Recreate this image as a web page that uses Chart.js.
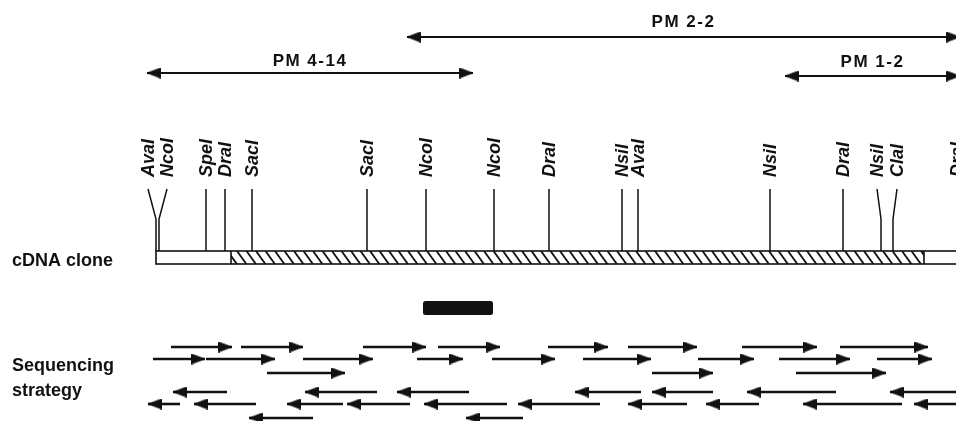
<!DOCTYPE html>
<html><head><meta charset="utf-8">
<script src="https://cdn.jsdelivr.net/npm/chart.js@4"></script>
<style>html,body{margin:0;padding:0;background:#fff;overflow:hidden}canvas{display:block}</style>
</head><body>
<canvas id="c" width="956" height="421"></canvas>
<script>
// ---------- DATA (map units, 0 = 5' end of the cDNA clone) ----------
const siteNames     = ['AvaI','NcoI','SpeI','DraI','SacI','SacI','NcoI','NcoI','DraI','NsiI','AvaI','NsiI','DraI','NsiI','ClaI','DraI'];
const sitePositions = [0, 3, 50, 69, 96, 211, 270, 338, 393, 466, 482, 614, 687, 725, 737, 801];

const cloneNames  = ['PM 4-14', 'PM 2-2', 'PM 1-2'];
const cloneStarts = [-9, 251, 629];
const cloneEnds   = [317, 804, 804];

// clone start, coding start, coding end, clone end
const cdnaBounds = [0, 75, 768, 840];
const probeRange = [267, 337];

// sequencing runs [from, to] in reading direction
const seqForwardA = [[15,76],[85,147],[207,270],[282,344],[392,452],[472,541],[586,661],[684,772]];
const seqForwardB = [[-3,49],[50,119],[147,217],[261,307],[336,399],[427,495],[542,598],[623,694],[721,776]];
const seqForwardC = [[111,189],[496,557],[640,730]];
const seqReverseD = [[71,17],[221,149],[313,241],[485,419],[557,496],[680,591],[820,734]];
const seqReverseE = [[24,-8],[100,38],[187,131],[254,191],[351,268],[444,362],[531,472],[603,550],[746,647],[830,758]];
const seqReverseF = [[157,93],[367,310]];

// ---------- LAYOUT / STYLE ----------
const INK = '#111';
const FONT = '"Liberation Sans", Arial, Helvetica, sans-serif';
const siteLabelShift = [-8, 8, 0, 0, 0, 0, 0, 0, 0, 0, 0, 0, 0, -4, 4, 0];
const cloneRowY   = [73, 37, 76];
const cloneLabelY = [66, 27, 67];
const siteLabelY = 177, siteTopY = 189, siteBendY = 219, barTopY = 251, barBotY = 264;
const probeTopY = 301, probeBotY = 315;
const seqRows = [
  {runs: seqForwardA, y: 347}, {runs: seqForwardB, y: 359}, {runs: seqForwardC, y: 373},
  {runs: seqReverseD, y: 392}, {runs: seqReverseE, y: 404}, {runs: seqReverseF, y: 418}
];

function makeHead(dir, len, h) {
  const c = document.createElement('canvas');
  c.width = len * 2; c.height = h;
  const g = c.getContext('2d');
  g.fillStyle = INK;
  g.strokeStyle = INK; g.lineWidth = 1; g.lineJoin = 'round';
  g.beginPath();
  if (dir > 0) { g.moveTo(0.5, 0.5); g.lineTo(len - 0.5, h / 2); g.lineTo(0.5, h - 0.5); }
  else { g.moveTo(2 * len - 0.5, 0.5); g.lineTo(len + 0.5, h / 2); g.lineTo(2 * len - 0.5, h - 0.5); }
  g.closePath(); g.fill(); g.stroke();
  return c;
}
const headR = makeHead(1, 14, 11), headL = makeHead(-1, 14, 11);
const cHeadR = makeHead(1, 14, 11), cHeadL = makeHead(-1, 14, 11);

const datasets = [];
function lineDS(points, width, styles, radii) {
  return {
    data: points, showLine: true, borderColor: INK, borderWidth: width,
    pointStyle: styles || 'circle', pointRadius: radii || 0, pointHoverRadius: radii || 0,
    pointBackgroundColor: INK, pointBorderWidth: 0, tension: 0, borderCapStyle: 'butt'
  };
}
// restriction site lines
sitePositions.forEach((p, i) => {
  datasets.push(lineDS([
    {x: p + siteLabelShift[i], y: siteTopY},
    {x: p, y: siteBendY},
    {x: p, y: barTopY}
  ], 1.5));
});
// clones (double-headed)
cloneStarts.forEach((s, i) => {
  datasets.push(lineDS([{x: s, y: cloneRowY[i]}, {x: cloneEnds[i], y: cloneRowY[i]}], 2.2, [cHeadL, cHeadR], [6, 6]));
});
// sequencing runs
seqRows.forEach(row => {
  row.runs.forEach(([a, b]) => {
    if (b > a) datasets.push(lineDS([{x: a, y: row.y}, {x: b, y: row.y}], 2.6, ['circle', headR], [0, 6]));
    else datasets.push(lineDS([{x: b, y: row.y}, {x: a, y: row.y}], 2.6, [headL, 'circle'], [6, 0]));
  });
});

const mapPlugin = {
  id: 'map',
  beforeDraw(chart) {
    const ctx = chart.ctx;
    ctx.save(); ctx.fillStyle = '#fff'; ctx.fillRect(0, 0, chart.width, chart.height); ctx.restore();
  },
  afterDatasetsDraw(chart) {
    const ctx = chart.ctx, xs = chart.scales.x, ys = chart.scales.y;
    const X = v => xs.getPixelForValue(v), Y = v => ys.getPixelForValue(v);
    ctx.save();
    // cDNA clone bar
    const yT = Y(barTopY), yB = Y(barBotY), h = yB - yT;
    const x0 = X(cdnaBounds[0]), x1 = X(cdnaBounds[1]), x2 = X(cdnaBounds[2]), x3 = X(cdnaBounds[3]);
    ctx.fillStyle = '#fff'; ctx.fillRect(x0, yT, x3 - x0, h);
    ctx.save();
    ctx.beginPath(); ctx.rect(x1, yT, x2 - x1, h); ctx.clip();
    ctx.strokeStyle = INK; ctx.lineWidth = 1.8;
    ctx.beginPath();
    for (let x = x1 - h; x < x2 + h; x += 9.5) { ctx.moveTo(x, yT); ctx.lineTo(x + h * 0.72, yB); }
    ctx.stroke();
    ctx.restore();
    ctx.strokeStyle = INK; ctx.lineWidth = 1.6;
    ctx.strokeRect(x0, yT, x3 - x0, h);
    ctx.beginPath(); ctx.moveTo(x1, yT); ctx.lineTo(x1, yB); ctx.moveTo(x2, yT); ctx.lineTo(x2, yB); ctx.stroke();
    // probe
    ctx.fillStyle = INK;
    ctx.beginPath();
    if (ctx.roundRect) ctx.roundRect(X(probeRange[0]), Y(probeTopY), X(probeRange[1]) - X(probeRange[0]), Y(probeBotY) - Y(probeTopY), 2.5);
    else ctx.rect(X(probeRange[0]), Y(probeTopY), X(probeRange[1]) - X(probeRange[0]), Y(probeBotY) - Y(probeTopY));
    ctx.fill();
    // site labels (rotated, italic)
    ctx.fillStyle = INK;
    ctx.font = 'italic bold 18px ' + FONT;
    ctx.textAlign = 'left'; ctx.textBaseline = 'alphabetic';
    const capH = 18 * 0.716;
    siteNames.forEach((n, i) => {
      ctx.save();
      ctx.translate(X(sitePositions[i] + siteLabelShift[i]) + capH / 2, Y(siteLabelY));
      ctx.rotate(-Math.PI / 2);
      ctx.fillText(n, 0, 0);
      ctx.restore();
    });
    // clone labels
    ctx.font = 'bold 17px ' + FONT;
    ctx.textAlign = 'center';
    try { ctx.letterSpacing = '1.5px'; } catch (e) {}
    cloneNames.forEach((n, i) => {
      ctx.fillText(n, X((cloneStarts[i] + cloneEnds[i]) / 2), Y(cloneLabelY[i]));
    });
    try { ctx.letterSpacing = '0px'; } catch (e) {}
    // captions
    ctx.font = 'bold 18px ' + FONT;
    ctx.textAlign = 'left';
    ctx.fillText('cDNA clone', 12, Y(266));
    ctx.fillText('Sequencing', 12, Y(371));
    ctx.fillText('strategy', 12, Y(396));
    ctx.restore();
  }
};

new Chart(document.getElementById('c'), {
  type: 'scatter',
  data: { datasets },
  options: {
    responsive: false, animation: false, events: [],
    layout: { padding: 0, autoPadding: false },
    plugins: { legend: { display: false }, tooltip: { enabled: false } },
    scales: {
      x: { type: 'linear', min: -156, max: 800, display: false },
      y: { type: 'linear', min: 0, max: 421, reverse: true, display: false }
    }
  },
  plugins: [mapPlugin]
});
</script>
</body></html>
